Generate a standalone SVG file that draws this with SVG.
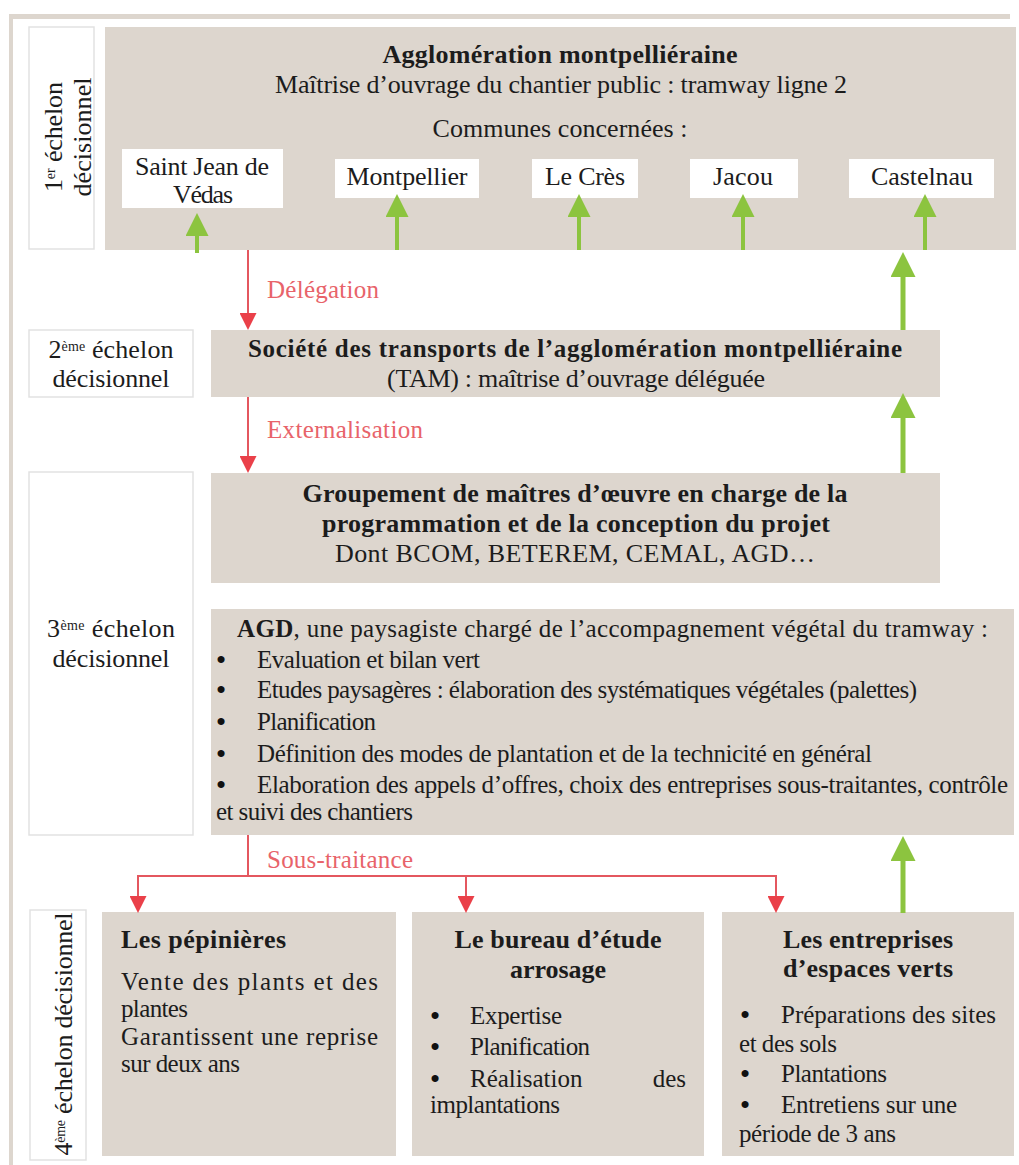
<svg xmlns="http://www.w3.org/2000/svg" width="1019" height="1165" viewBox="0 0 1019 1165">
<defs>
<style>
.t{font-family:"Liberation Serif","Times New Roman",serif;font-size:25px;fill:#1c1c1c}
.b{font-weight:bold}
.l{font-size:26px}
.bu{font-family:"Liberation Serif","Times New Roman",serif;font-size:26px;font-weight:bold;fill:#111111}
.r{font-family:"Liberation Serif","Times New Roman",serif;font-size:25px;fill:#e8636a}
.box{fill:#ddd6ce}
.wb{fill:#ffffff}
.lab{fill:#ffffff;stroke:#e2e2e2;stroke-width:1.5}
.g{stroke:#8cc43f;fill:none}
.rd{stroke:#e4575f;stroke-width:2;fill:none}
.sup{font-size:14px}
</style>
<marker id="gs" markerUnits="userSpaceOnUse" markerWidth="23" markerHeight="23" viewBox="0 0 23 23" refX="0" refY="11.5" orient="auto"><path d="M0,0 L23,11.5 L0,23z" fill="#8cc43f"/></marker>
<marker id="gb" markerUnits="userSpaceOnUse" markerWidth="25" markerHeight="25" viewBox="0 0 25 25" refX="0" refY="12.5" orient="auto"><path d="M0,0 L25,12.5 L0,25z" fill="#8cc43f"/></marker>
<marker id="ra" markerUnits="userSpaceOnUse" markerWidth="17" markerHeight="17" viewBox="0 0 17 17" refX="0" refY="8.5" orient="auto"><path d="M0,0 L17,8.5 L0,17z" fill="#ea4049"/></marker>
</defs>

<rect x="0" y="0" width="1019" height="1165" fill="#ffffff"/>
<rect x="9" y="14" width="1001" height="5" fill="#ddd6ce"/>
<rect x="9" y="14" width="4" height="1151" fill="#ddd6ce"/>

<g id="label1">
<rect class="lab" x="29" y="27" width="65" height="222"/>
<text class="t l" transform="translate(62,137) rotate(-90)" text-anchor="middle" textLength="110">1<tspan class="sup" baseline-shift="super">er</tspan> échelon</text>
<text class="t l" transform="translate(91,137) rotate(-90)" text-anchor="middle" textLength="119">décisionnel</text>
</g>

<g id="agglo">
<rect class="box" x="105" y="27" width="911" height="223"/>
<text class="t l b" x="560" y="63" text-anchor="middle" textLength="355">Agglomération montpelliéraine</text>
<text class="t l" x="561" y="93" text-anchor="middle" textLength="572">Maîtrise d’ouvrage du chantier public : tramway ligne 2</text>
<text class="t l" x="560" y="137" text-anchor="middle" textLength="255">Communes concernées :</text>
</g>

<g id="c-saintjean">
<rect class="wb" x="122" y="149" width="161" height="59"/>
<text class="t l" x="202" y="175" text-anchor="middle" textLength="134">Saint Jean de</text>
<text class="t l" x="203" y="203" text-anchor="middle" textLength="60">Védas</text>
</g>
<g id="c-montpellier">
<rect class="wb" x="335" y="159" width="144" height="39"/>
<text class="t l" x="407" y="185" text-anchor="middle" textLength="121">Montpellier</text>
</g>
<g id="c-lecres">
<rect class="wb" x="532" y="159" width="106" height="39"/>
<text class="t l" x="585" y="185" text-anchor="middle" textLength="80">Le Crès</text>
</g>
<g id="c-jacou">
<rect class="wb" x="690" y="159" width="108" height="39"/>
<text class="t l" x="743" y="185" text-anchor="middle" textLength="60">Jacou</text>
</g>
<g id="c-castelnau">
<rect class="wb" x="849" y="159" width="145" height="39"/>
<text class="t l" x="922" y="185" text-anchor="middle" textLength="102">Castelnau</text>
</g>

<g id="label2">
<rect class="lab" x="29" y="330" width="164" height="67"/>
<text class="t l" x="111" y="358" text-anchor="middle" textLength="125">2<tspan class="sup" baseline-shift="super">ème</tspan> échelon</text>
<text class="t l" x="111" y="387" text-anchor="middle" textLength="117">décisionnel</text>
</g>

<g id="tam">
<rect class="box" x="211" y="330" width="729" height="67"/>
<text class="t b" x="575" y="357" text-anchor="middle" textLength="654">Société des transports de l’agglomération montpelliéraine</text>
<text class="t l" x="576" y="387" text-anchor="middle" textLength="378">(TAM) : maîtrise d’ouvrage déléguée</text>
</g>

<g id="label3">
<rect class="lab" x="29" y="472" width="164" height="363"/>
<text class="t l" x="111" y="637" text-anchor="middle" textLength="128">3<tspan class="sup" baseline-shift="super">ème</tspan>  échelon</text>
<text class="t l" x="111" y="667" text-anchor="middle" textLength="117">décisionnel</text>
</g>

<g id="groupement">
<rect class="box" x="211" y="473" width="729" height="110"/>
<text class="t l b" x="575" y="502" text-anchor="middle" textLength="545">Groupement de maîtres d’œuvre en charge de la</text>
<text class="t l b" x="576" y="532" text-anchor="middle" textLength="508">programmation et de la conception du projet</text>
<text class="t l" x="575" y="562" text-anchor="middle" textLength="480">Dont BCOM, BETEREM, CEMAL, AGD…</text>
</g>

<g id="agd">
<rect class="box" x="211" y="609" width="803" height="226"/>
<text class="t" x="237" y="637" textLength="751"><tspan class="b">AGD</tspan>, une paysagiste chargé de l’accompagnement végétal du tramway :</text>
<text class="bu" x="221" y="668" text-anchor="middle">•</text>
<text class="t" x="257" y="668" textLength="223">Evaluation et bilan vert</text>
<text class="bu" x="221" y="698" text-anchor="middle">•</text>
<text class="t" x="257" y="698" textLength="660">Etudes paysagères : élaboration des systématiques végétales (palettes)</text>
<text class="bu" x="221" y="730" text-anchor="middle">•</text>
<text class="t" x="257" y="730" textLength="119">Planification</text>
<text class="bu" x="221" y="762" text-anchor="middle">•</text>
<text class="t" x="257" y="762" textLength="615">Définition des modes de plantation et de la technicité en général</text>
<text class="bu" x="221" y="793" text-anchor="middle">•</text>
<text class="t" x="257" y="793" textLength="751">Elaboration des appels d’offres, choix des entreprises sous-traitantes, contrôle</text>
<text class="t" x="216" y="820" textLength="197">et suivi des chantiers</text>
</g>

<g id="label4">
<rect class="lab" x="30" y="910" width="56" height="250"/>
<text class="t l" transform="translate(72,1034) rotate(-90)" text-anchor="middle" textLength="243">4<tspan class="sup" baseline-shift="super">ème</tspan> échelon décisionnel</text>
</g>

<g id="pepinieres">
<rect class="box" x="102" y="912" width="294" height="244"/>
<text class="t l b" x="121" y="948" textLength="165">Les pépinières</text>
<text class="t" x="121" y="990" textLength="257">Vente des plants et des</text>
<text class="t" x="121" y="1017" textLength="67">plantes</text>
<text class="t" x="121" y="1045" textLength="257">Garantissent une reprise</text>
<text class="t" x="121" y="1072" textLength="119">sur deux ans</text>
</g>

<g id="bureau">
<rect class="box" x="412" y="912" width="292" height="244"/>
<text class="t l b" x="558" y="948" text-anchor="middle" textLength="207">Le bureau d’étude</text>
<text class="t l b" x="558" y="978" text-anchor="middle" textLength="96">arrosage</text>
<text class="bu" x="435" y="1024" text-anchor="middle">•</text>
<text class="t" x="470" y="1024" textLength="92">Expertise</text>
<text class="bu" x="435" y="1055" text-anchor="middle">•</text>
<text class="t" x="470" y="1055" textLength="120">Planification</text>
<text class="bu" x="435" y="1087" text-anchor="middle">•</text>
<text class="t" x="470" y="1087">Réalisation</text>
<text class="t" x="686" y="1087" text-anchor="end">des</text>
<text class="t" x="430" y="1113" textLength="130">implantations</text>
</g>

<g id="entreprises">
<rect class="box" x="722" y="912" width="292" height="244"/>
<text class="t l b" x="868" y="948" text-anchor="middle" textLength="170">Les entreprises</text>
<text class="t l b" x="868" y="977" text-anchor="middle" textLength="170">d’espaces verts</text>
<text class="bu" x="745" y="1023" text-anchor="middle">•</text>
<text class="t" x="781" y="1023" textLength="215">Préparations des sites</text>
<text class="t" x="739" y="1052" textLength="98">et des sols</text>
<text class="bu" x="745" y="1082" text-anchor="middle">•</text>
<text class="t" x="781" y="1082" textLength="106">Plantations</text>
<text class="bu" x="745" y="1113" text-anchor="middle">•</text>
<text class="t" x="781" y="1113" textLength="176">Entretiens sur une</text>
<text class="t" x="739" y="1142" textLength="157">période de 3 ans</text>
</g>

<g id="connectors">
<line class="g" stroke-width="4" x1="197" y1="253" x2="197" y2="236" marker-end="url(#gs)"/>
<line class="g" stroke-width="4" x1="397" y1="250" x2="397" y2="217" marker-end="url(#gs)"/>
<line class="g" stroke-width="4" x1="579" y1="250" x2="579" y2="217" marker-end="url(#gs)"/>
<line class="g" stroke-width="4" x1="743" y1="250" x2="743" y2="217" marker-end="url(#gs)"/>
<line class="g" stroke-width="4" x1="925" y1="250" x2="925" y2="217" marker-end="url(#gs)"/>
<line class="g" stroke-width="5" x1="903" y1="330" x2="903" y2="277" marker-end="url(#gb)"/>
<line class="g" stroke-width="5" x1="903" y1="473" x2="903" y2="418" marker-end="url(#gb)"/>
<line class="g" stroke-width="5" x1="903" y1="913" x2="903" y2="861" marker-end="url(#gb)"/>
<line class="rd" x1="248" y1="250" x2="248" y2="313" marker-end="url(#ra)"/>
<line class="rd" x1="248" y1="397" x2="248" y2="456" marker-end="url(#ra)"/>
<line class="rd" x1="248" y1="835" x2="248" y2="876"/>
<line class="rd" x1="137" y1="876" x2="777" y2="876"/>
<line class="rd" x1="138" y1="876" x2="138" y2="896" marker-end="url(#ra)"/>
<line class="rd" x1="466" y1="876" x2="466" y2="896" marker-end="url(#ra)"/>
<line class="rd" x1="776" y1="876" x2="776" y2="896" marker-end="url(#ra)"/>
<text class="r" x="267" y="298" textLength="112">Délégation</text>
<text class="r" x="267" y="438" textLength="156">Externalisation</text>
<text class="r" x="267" y="868" textLength="146">Sous-traitance</text>
</g>
</svg>
